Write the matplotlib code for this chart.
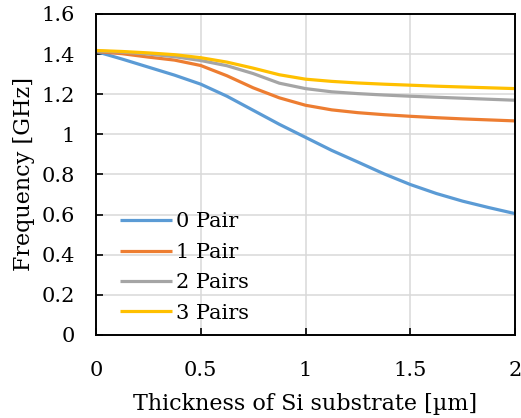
import matplotlib
matplotlib.use('Agg')
import matplotlib.pyplot as plt

plt.rcParams['font.family'] = 'DejaVu Serif'
plt.rcParams['font.size'] = 15

# thickness of Si substrate [um]
thickness = [0, 0.125, 0.25, 0.375, 0.5, 0.625, 0.75, 0.875, 1.0,
             1.125, 1.25, 1.375, 1.5, 1.625, 1.75, 1.875, 2.0]

# frequency [GHz]
f_0pair = [1.413, 1.375, 1.335, 1.295, 1.25, 1.19, 1.12, 1.05, 0.985,
           0.92, 0.862, 0.803, 0.75, 0.705, 0.667, 0.635, 0.605]
f_1pair = [1.413, 1.402, 1.385, 1.37, 1.343, 1.292, 1.232, 1.182, 1.145,
           1.122, 1.108, 1.098, 1.09, 1.083, 1.077, 1.072, 1.067]
f_2pairs = [1.415, 1.41, 1.40, 1.387, 1.368, 1.342, 1.303, 1.255, 1.228,
            1.212, 1.203, 1.196, 1.19, 1.185, 1.18, 1.175, 1.17]
f_3pairs = [1.418, 1.413, 1.406, 1.397, 1.382, 1.36, 1.33, 1.297, 1.275,
            1.264, 1.256, 1.25, 1.245, 1.24, 1.236, 1.232, 1.228]

labels = ['0 Pair', '1 Pair', '2 Pairs', '3 Pairs']
colors = ['#5B9BD5', '#ED7D31', '#A5A5A5', '#FFC000']

xticks = [0, 0.5, 1, 1.5, 2]
xticklabels = ['0', '0.5', '1', '1.5', '2']
yticks = [0, 0.2, 0.4, 0.6, 0.8, 1.0, 1.2, 1.4, 1.6]
yticklabels = ['0', '0.2', '0.4', '0.6', '0.8', '1', '1.2', '1.4', '1.6']

fig = plt.figure(figsize=(5.21, 4.18), dpi=100)
ax = fig.add_axes([0.1843, 0.1986, 0.8042, 0.768])

for ys, lab, c in zip([f_0pair, f_1pair, f_2pairs, f_3pairs], labels, colors):
    ax.plot(thickness, ys, color=c, linewidth=2.3, label=lab,
            solid_capstyle='butt')

ax.set_xlim(0, 2)
ax.set_ylim(0, 1.6)
ax.set_xticks(xticks)
ax.set_xticklabels(xticklabels)
ax.set_yticks(yticks)
ax.set_yticklabels(yticklabels)
ax.tick_params(direction='in', length=5, width=1.2, pad=19, labelsize=15)
ax.tick_params(axis='y', pad=15)
ax.grid(True, color='#d9d9d9', linewidth=1.1)
ax.set_axisbelow(True)
for s in ax.spines.values():
    s.set_linewidth(1.4)

ax.set_xlabel('Thickness of Si substrate [µm]', fontsize=16, labelpad=9)
ax.set_ylabel('Frequency [GHz]', fontsize=16, labelpad=5)

ax.legend(loc='lower left', bbox_to_anchor=(0.057, 0.038), frameon=False,
          fontsize=15, handlelength=2.5, handletextpad=0.2,
          labelspacing=0.55, borderpad=0, borderaxespad=0)

plt.savefig('out.png', dpi=100)
